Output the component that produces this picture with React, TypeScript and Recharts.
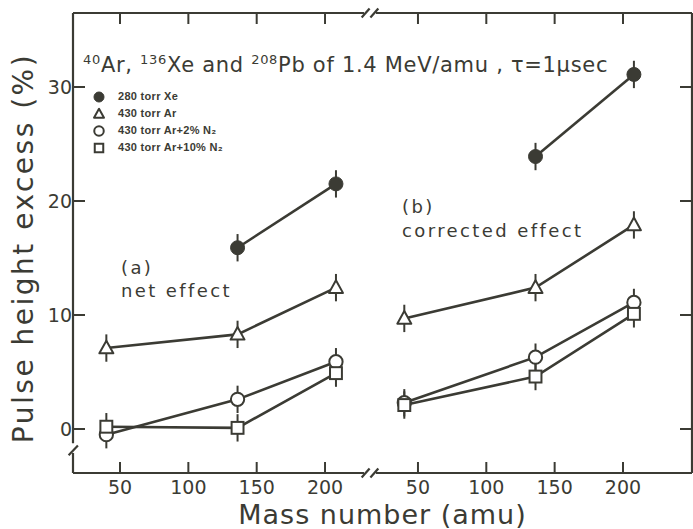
import React from 'react';
import {
  ComposedChart,
  Line,
  XAxis,
  YAxis,
  ErrorBar,
  ReferenceLine,
  Legend,
  Label,
} from 'recharts';

// ---------------- data ----------------
const MASSES = [40, 136, 208];
const XE_MASSES = [136, 208];

// (a) net effect
const NET_XE = [15.9, 21.5];
const NET_AR = [7.1, 8.3, 12.4];
const NET_AR2 = [-0.5, 2.6, 5.9];
const NET_AR10 = [0.2, 0.1, 4.9];

// (b) corrected effect
const COR_XE = [23.9, 31.1];
const COR_AR = [9.7, 12.4, 17.9];
const COR_AR2 = [2.3, 6.3, 11.1];
const COR_AR10 = [2.1, 4.6, 10.1];

const ERR = 1.2;

const MASS_TICKS = [50, 100, 150, 200];
const Y_TICKS = [0, 10, 20, 30];

const SERIES_LABELS = [
  '280 torr Xe',
  '430 torr Ar',
  '430 torr Ar+2% N₂',
  '430 torr Ar+10% N₂',
];
const SERIES_KINDS = ['filled', 'triangle', 'circle', 'square'];

// ---------------- layout ----------------
const W = 693;
const H = 529;
const TOP = 13;
const BOTTOM = 473;
const LEFT = 73;
const RIGHT = 692;

// both panels share one numeric axis; panel (b) is shifted right by OFFSET amu
const OFFSET = 218;
const X0 = 15.6;
const X1 = 468.5;
const Y0 = -3.86;
const Y1 = 36.49;
const XB1 = 228.5; // axis break (shared axis units)
const XB2 = 237.3;

const INK = '#3b3b34';
const FONT = '"DejaVu Sans", Verdana, sans-serif';
const LEGEND_FONT = '"Liberation Sans", Arial, sans-serif';

const build = (masses: number[], values: number[], shift: number) =>
  masses.map((m, i) => ({ x: m + shift, y: values[i], err: ERR }));

const ALL_TICKS = [...MASS_TICKS, ...MASS_TICKS.map((t) => t + OFFSET)];

function Marker({ cx, cy, kind, size }: { cx: number; cy: number; kind: string; size: number }) {
  const r = size / 2;
  if (kind === 'filled') {
    return <circle cx={cx} cy={cy} r={r} fill={INK} stroke={INK} strokeWidth={1} />;
  }
  if (kind === 'triangle') {
    const pts = `${cx},${cy - r * 1.05} ${cx - r},${cy + r * 0.75} ${cx + r},${cy + r * 0.75}`;
    return <polygon points={pts} fill="#fff" stroke={INK} strokeWidth={2} strokeLinejoin="round" />;
  }
  if (kind === 'circle') {
    return <circle cx={cx} cy={cy} r={r * 0.95} fill="#fff" stroke={INK} strokeWidth={2} />;
  }
  const s = r * 0.85;
  return <rect x={cx - s} y={cy - s} width={2 * s} height={2 * s} fill="#fff" stroke={INK} strokeWidth={2} />;
}

const BottomTick = (props: any) => {
  const { x, payload } = props;
  const v = payload.value > 232 ? payload.value - OFFSET : payload.value;
  return (
    <g>
      <line x1={x} y1={BOTTOM} x2={x} y2={BOTTOM - 11} stroke={INK} strokeWidth={2} />
      <text x={x} y={BOTTOM + 14} textAnchor="middle" dominantBaseline="central" fontSize={19} fill={INK} fontFamily={FONT}>
        {v}
      </text>
    </g>
  );
};

const TopTick = (props: any) => {
  const { x } = props;
  return <line x1={x} y1={TOP} x2={x} y2={TOP + 11} stroke={INK} strokeWidth={2} />;
};

const LeftTick = (props: any) => {
  const { y, payload } = props;
  return (
    <g>
      <line x1={LEFT} y1={y} x2={LEFT + 12} y2={y} stroke={INK} strokeWidth={2} />
      <text x={LEFT - 1} y={y} textAnchor="end" dominantBaseline="central" fontSize={19} fill={INK} fontFamily={FONT}>
        {payload.value}
      </text>
    </g>
  );
};

const RightTick = (props: any) => {
  const { y } = props;
  return <line x1={RIGHT} y1={y} x2={RIGHT - 12} y2={y} stroke={INK} strokeWidth={2} />;
};

const LegendContent = () => (
  <div style={{ fontFamily: LEGEND_FONT, fontSize: 11, color: INK, fontWeight: 'bold', lineHeight: '17px' }}>
    {SERIES_LABELS.map((label, i) => (
      <div key={label} style={{ display: 'flex', alignItems: 'center' }}>
        <svg width={14} height={14} style={{ display: 'block' }}>
          <Marker cx={7} cy={7} kind={SERIES_KINDS[i]} size={10} />
        </svg>
        <span style={{ marginLeft: 12, letterSpacing: '0.3px' }}>{label}</span>
      </div>
    ))}
  </div>
);

export default function App() {
  const seriesA = [
    { data: build(XE_MASSES, NET_XE, 0), kind: 'filled', name: SERIES_LABELS[0] },
    { data: build(MASSES, NET_AR, 0), kind: 'triangle', name: SERIES_LABELS[1] },
    { data: build(MASSES, NET_AR2, 0), kind: 'circle', name: SERIES_LABELS[2] },
    { data: build(MASSES, NET_AR10, 0), kind: 'square', name: SERIES_LABELS[3] },
  ];
  const seriesB = [
    { data: build(XE_MASSES, COR_XE, OFFSET), kind: 'filled', name: SERIES_LABELS[0] },
    { data: build(MASSES, COR_AR, OFFSET), kind: 'triangle', name: SERIES_LABELS[1] },
    { data: build(MASSES, COR_AR2, OFFSET), kind: 'circle', name: SERIES_LABELS[2] },
    { data: build(MASSES, COR_AR10, OFFSET), kind: 'square', name: SERIES_LABELS[3] },
  ];
  const all = [...seriesA.map((s) => ({ ...s, panel: 'a' })), ...seriesB.map((s) => ({ ...s, panel: 'b' }))];

  const seg = (p: [number, number][], key: string) => (
    <ReferenceLine
      key={key}
      xAxisId="b"
      yAxisId="l"
      segment={[{ x: p[0][0], y: p[0][1] }, { x: p[1][0], y: p[1][1] }]}
      stroke={INK}
      strokeWidth={2.2}
      ifOverflow="visible"
    />
  );
  const dx = 2.9; // ~4px
  const dy = 0.4; // ~4.5px

  return (
    <div style={{ position: 'absolute', left: 0, top: 0, width: W, height: H, background: '#fff' }}>
      <ComposedChart width={W} height={H} margin={{ top: 0, right: 0, bottom: 0, left: 0 }}>
        <XAxis
          xAxisId="b"
          dataKey="x"
          type="number"
          domain={[X0, X1]}
          allowDataOverflow
          ticks={ALL_TICKS}
          interval={0}
          height={H - BOTTOM}
          axisLine={false}
          tickLine={false}
          tick={<BottomTick />}
        >
          <Label
            value="Mass number (amu)"
            position="insideBottom"
            offset={5}
            style={{ fontSize: 27, fill: INK, fontFamily: FONT, letterSpacing: '1px' }}
          />
        </XAxis>
        <XAxis
          xAxisId="t"
          orientation="top"
          dataKey="x"
          type="number"
          domain={[X0, X1]}
          allowDataOverflow
          ticks={ALL_TICKS}
          interval={0}
          height={TOP}
          axisLine={false}
          tickLine={false}
          tick={<TopTick />}
        />
        <YAxis
          yAxisId="l"
          type="number"
          domain={[Y0, Y1]}
          allowDataOverflow
          ticks={Y_TICKS}
          interval={0}
          width={LEFT}
          axisLine={false}
          tickLine={false}
          tick={<LeftTick />}
        >
          <Label
            content={() => (
              <text
                x={23}
                y={248}
                transform="rotate(-90 23 248)"
                textAnchor="middle"
                dominantBaseline="central"
                fontSize={28}
                fill={INK}
                fontFamily={FONT}
                letterSpacing="2.5px"
              >
                Pulse height excess (%)
              </text>
            )}
          />
        </YAxis>
        <YAxis
          yAxisId="r"
          orientation="right"
          type="number"
          domain={[Y0, Y1]}
          allowDataOverflow
          ticks={Y_TICKS}
          interval={0}
          width={W - RIGHT}
          axisLine={{ stroke: INK, strokeWidth: 2.2 }}
          tickLine={false}
          tick={<RightTick />}
        />

        {/* frame with axis breaks */}
        {seg([[X0, Y0], [XB1, Y0]], 'b1')}
        {seg([[XB2, Y0], [X1, Y0]], 'b2')}
        {seg([[X0, Y1], [XB1, Y1]], 't1')}
        {seg([[XB2, Y1], [X1, Y1]], 't2')}
        {seg([[XB1 - dx + 1.2, Y0 - dy], [XB1 + dx + 1.2, Y0 + dy]], 'bs1')}
        {seg([[XB2 - dx - 1.2, Y0 - dy], [XB2 + dx - 1.2, Y0 + dy]], 'bs2')}
        {seg([[XB1 - dx + 1.2, Y1 - dy], [XB1 + dx + 1.2, Y1 + dy]], 'ts1')}
        {seg([[XB2 - dx - 1.2, Y1 - dy], [XB2 + dx - 1.2, Y1 + dy]], 'ts2')}
        {seg([[X0, Y1], [X0, -1.25]], 'l1')}
        {seg([[X0, -2.1], [X0, Y0]], 'l2')}
        {seg([[X0 - 3.2, -2.3], [X0 + 3.6, -1.45]], 'ls1')}

        {all.map((s, idx) => (
          <Line
            key={`${s.panel}-${idx}`}
            xAxisId="b"
            yAxisId="l"
            data={s.data}
            dataKey="y"
            name={s.name}
            type="linear"
            stroke={INK}
            strokeWidth={2.6}
            legendType="none"
            isAnimationActive={false}
            dot={(p: any) => <Marker key={`${s.panel}-${idx}-${p.index}`} cx={p.cx} cy={p.cy} kind={s.kind} size={14} />}
            activeDot={false}
          >
            <ErrorBar dataKey="err" direction="y" width={0} stroke={INK} strokeWidth={2} isAnimationActive={false} />
          </Line>
        ))}

        <Legend
          layout="vertical"
          align="center"
          verticalAlign="middle"
          content={<LegendContent />}
          wrapperStyle={{ left: 92, top: 88, width: 200, height: 'auto' }}
        />
      </ComposedChart>

      <div
        style={{
          position: 'absolute',
          left: 83,
          top: 50,
          fontFamily: FONT,
          fontSize: 21,
          lineHeight: '20px',
          color: INK,
          whiteSpace: 'nowrap',
          letterSpacing: '0.7px',
        }}
      >
        <sup style={{ fontSize: 13, verticalAlign: 8 }}>40</sup>Ar, <sup style={{ fontSize: 13, verticalAlign: 8 }}>136</sup>Xe and{' '}
        <sup style={{ fontSize: 13, verticalAlign: 8 }}>208</sup>Pb of 1.4 MeV/amu , τ=1μsec
      </div>

      <div
        style={{
          position: 'absolute',
          left: 121,
          top: 256,
          fontFamily: FONT,
          fontSize: 18,
          lineHeight: '23px',
          color: INK,
          whiteSpace: 'nowrap',
          letterSpacing: '2.4px',
        }}
      >
        <div>(a)</div>
        <div>net effect</div>
      </div>
      <div
        style={{
          position: 'absolute',
          left: 402,
          top: 195,
          fontFamily: FONT,
          fontSize: 18,
          lineHeight: '24px',
          color: INK,
          whiteSpace: 'nowrap',
          letterSpacing: '2.4px',
        }}
      >
        <div>(b)</div>
        <div>corrected effect</div>
      </div>
    </div>
  );
}
